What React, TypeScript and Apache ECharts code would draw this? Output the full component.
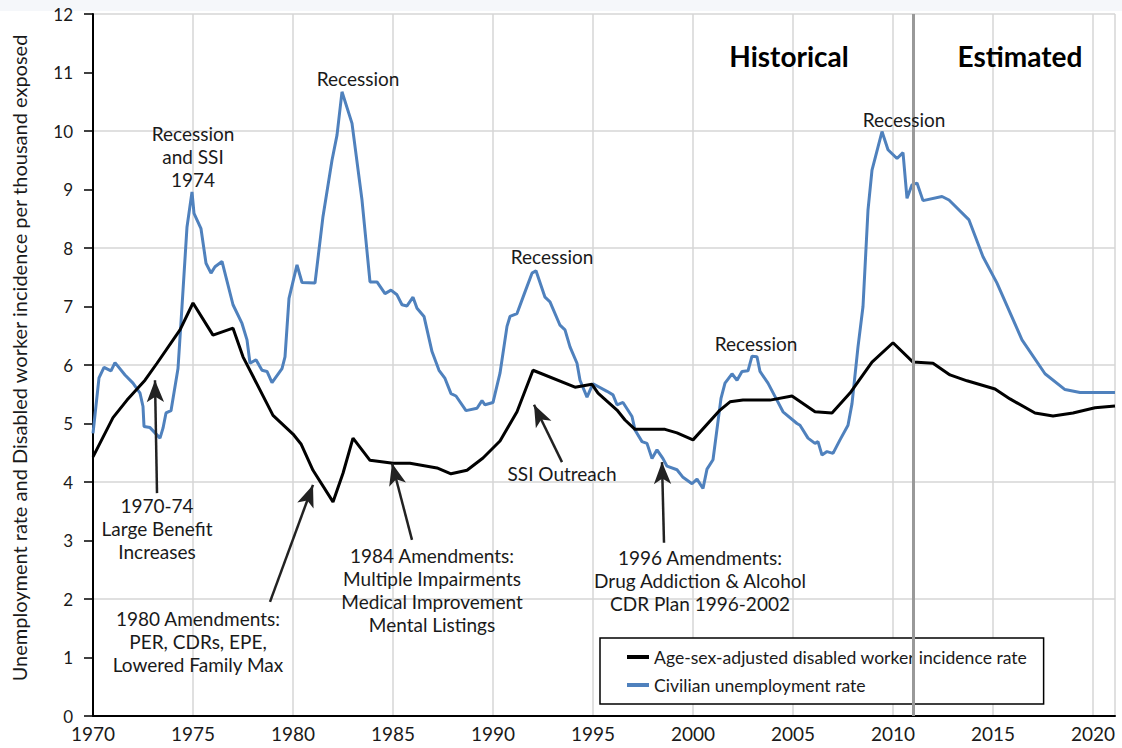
import React, { useEffect, useRef } from "react";
import * as echarts from "echarts";

// Civilian unemployment rate (blue)
const blueYears = [
  1970.0, 1970.3, 1970.55, 1970.9, 1971.1, 1971.6, 1972.0, 1972.35, 1972.5, 1972.55,
  1972.85, 1973.35, 1973.5, 1973.65, 1973.9, 1974.25, 1974.45, 1974.7, 1974.95, 1975.05,
  1975.4, 1975.65, 1975.9, 1976.1, 1976.45, 1977.0, 1977.45, 1977.7, 1977.85, 1978.15,
  1978.45, 1978.7, 1978.95, 1979.45, 1979.6, 1979.8, 1980.2, 1980.45, 1981.1, 1981.5,
  1981.95, 1982.2, 1982.45, 1982.95, 1983.45, 1983.85, 1984.2, 1984.6, 1984.9, 1985.2,
  1985.45, 1985.7, 1986.0, 1986.2, 1986.55, 1986.95, 1987.3, 1987.6, 1987.9, 1988.15,
  1988.65, 1989.2, 1989.45, 1989.6, 1990.0, 1990.35, 1990.7, 1990.85, 1991.2, 1991.6,
  1991.95, 1992.15, 1992.6, 1992.85, 1993.35, 1993.6, 1993.85, 1994.2, 1994.35, 1994.7,
  1995.0, 1995.7, 1996.0, 1996.2, 1996.5, 1996.95, 1997.1, 1997.45, 1997.7, 1997.95,
  1998.2, 1998.5, 1998.7, 1999.2, 1999.5, 1999.95, 2000.2, 2000.5, 2000.7, 2001.0,
  2001.4, 2001.6, 2001.95, 2002.2, 2002.45, 2002.75, 2002.95, 2003.2, 2003.35, 2003.75,
  2004.15, 2004.5, 2005.2, 2005.35, 2005.75, 2006.1, 2006.25, 2006.45, 2006.7, 2007.0,
  2007.35, 2007.75, 2007.95, 2008.25, 2008.5, 2008.75, 2008.95, 2009.45, 2009.75, 2010.2,
  2010.5, 2010.7, 2010.95, 2011.2, 2011.5, 2012.45, 2012.8, 2013.8, 2014.5, 2015.2,
  2016.45, 2017.6, 2018.6, 2019.35, 2021.1,
];
const blueValues = [
  4.83, 5.78, 5.96, 5.9, 6.04, 5.83, 5.69, 5.52, 5.29, 4.95,
  4.93, 4.75, 4.92, 5.18, 5.22, 5.94, 7.0, 8.36, 8.96, 8.59,
  8.33, 7.74, 7.57, 7.68, 7.77, 7.03, 6.71, 6.43, 6.03, 6.09,
  5.91, 5.89, 5.7, 5.94, 6.14, 7.14, 7.71, 7.41, 7.4, 8.54,
  9.5, 9.93, 10.67, 10.13, 8.82, 7.42, 7.42, 7.22, 7.28, 7.2,
  7.03, 7.01, 7.16, 6.97, 6.83, 6.23, 5.91, 5.77, 5.51, 5.47,
  5.22, 5.26, 5.39, 5.32, 5.36, 5.86, 6.66, 6.83, 6.88, 7.25,
  7.57, 7.61, 7.16, 7.08, 6.68, 6.6, 6.31, 6.03, 5.74, 5.45,
  5.68, 5.55, 5.49, 5.32, 5.36, 5.12, 4.89, 4.69, 4.66, 4.4,
  4.55, 4.4, 4.27, 4.21, 4.08, 3.97, 4.05, 3.89, 4.22, 4.38,
  5.43, 5.69, 5.85, 5.74, 5.89, 5.9, 6.15, 6.14, 5.89, 5.69,
  5.43, 5.2, 5.0, 4.97, 4.75, 4.66, 4.69, 4.46, 4.52, 4.49,
  4.72, 4.97, 5.34, 6.31, 7.0, 8.65, 9.33, 9.99, 9.68, 9.53,
  9.63, 8.85, 9.08, 9.11, 8.81, 8.88, 8.82, 8.48, 7.85, 7.4,
  6.43, 5.85, 5.58, 5.53, 5.53,
];

// Age-sex-adjusted disabled worker incidence rate (black)
const blackYears = [
  1970, 1971, 1971.7, 1972.6, 1973.2, 1974.35, 1975, 1976, 1977, 1977.5,
  1979, 1980, 1980.4, 1981, 1982, 1982.5, 1983, 1983.85, 1985, 1985.85,
  1987.2, 1987.9, 1988.7, 1989.5, 1990.35, 1991.2, 1992, 1994.1, 1994.95, 1995.25,
  1996.2, 1996.6, 1997.1, 1998.6, 1999.2, 2000, 2001.35, 2001.85, 2002.5, 2003.85,
  2004.95, 2006.1, 2006.95, 2007.85, 2008.95, 2010, 2011, 2012, 2012.85, 2013.7,
  2015.1, 2015.85, 2017.1, 2018, 2019, 2020.1, 2021.1,
];
const blackValues = [
  4.43, 5.1, 5.4, 5.74, 6.03, 6.6, 7.06, 6.51, 6.63, 6.14,
  5.14, 4.82, 4.65, 4.2, 3.66, 4.15, 4.75, 4.37, 4.32, 4.32,
  4.24, 4.14, 4.2, 4.41, 4.7, 5.2, 5.91, 5.62, 5.67, 5.52,
  5.23, 5.06, 4.9, 4.9, 4.84, 4.72, 5.23, 5.37, 5.4, 5.4,
  5.47, 5.2, 5.18, 5.52, 6.05, 6.38, 6.05, 6.03, 5.83, 5.73,
  5.59, 5.42, 5.18, 5.13, 5.18, 5.27, 5.3,
];

const seriesNames = [
  "Age-sex-adjusted disabled worker incidence rate",
  "Civilian unemployment rate",
];
const yAxisTitle =
  "Unemployment rate and Disabled worker incidence per thousand exposed";
const splitYear = 2011;

const notes = [
  { text: "Recession\nand SSI\n1974", at: [1975.0, 9.57] },
  { text: "Recession", at: [1983.25, 10.9] },
  { text: "Recession", at: [1992.95, 7.86] },
  { text: "Recession", at: [2003.15, 6.36] },
  { text: "Recession", at: [2010.55, 10.2] },
  { text: "1970-74\nLarge Benefit\nIncreases", at: [1973.2, 3.21] },
  { text: "1980 Amendments:\nPER, CDRs, EPE,\nLowered Family Max", at: [1975.25, 1.28] },
  { text: "1984 Amendments:\nMultiple Impairments\nMedical Improvement\nMental Listings", at: [1986.95, 2.15] },
  { text: "SSI Outreach", at: [1993.45, 4.15] },
  { text: "1996 Amendments:\nDrug Addiction & Alcohol\nCDR Plan 1996-2002", at: [2000.35, 2.32] },
];
const headings = [
  { text: "Historical", at: [2004.8, 11.28] },
  { text: "Estimated", at: [2016.35, 11.28] },
];
const arrows = [
  [[1973.2, 3.81], [1973.1, 5.74]],
  [[1978.85, 1.95], [1981.0, 3.95]],
  [[1985.95, 3.01], [1984.95, 4.32]],
  [[1993.45, 4.34], [1992.05, 5.32]],
  [[1998.55, 2.96], [1998.45, 4.34]],
];

export default function App() {
  const ref = useRef<HTMLDivElement>(null);
  useEffect(() => {
    if (!ref.current) return;
    const chart = echarts.init(ref.current, null, { renderer: "svg" });
    const font = "Lato, 'Noto Sans', sans-serif";
    const ink = "#1a1a1a";
    const blueData = blueYears.map((x, i) => [x, blueValues[i]]);
    const blackData = blackYears.map((x, i) => [x, blackValues[i]]);

    chart.setOption({
      animation: false,
      backgroundColor: "#ffffff",
      textStyle: { fontFamily: font },
      grid: { left: 93, right: 7, top: 14, bottom: 32 },
      legend: {
        data: seriesNames,
        orient: "vertical",
        left: 600,
        top: 638,
        backgroundColor: "#ffffff",
        borderColor: "#000000",
        borderWidth: 1.5,
        borderRadius: 0,
        padding: [10, 16, 10, 27],
        itemGap: 10,
        itemWidth: 22,
        itemHeight: 4,
        icon: "rect",
        textStyle: { fontFamily: font, fontSize: 17.6, color: ink },
      },
      xAxis: {
        type: "value",
        min: 1970,
        max: 2021.1,
        interval: 5,
        axisLine: { show: true, lineStyle: { color: "#000", width: 2 } },
        axisTick: { show: false },
        axisLabel: {
          fontSize: 19,
          color: ink,
          margin: 8,
          showMaxLabel: false,
          formatter: (v: number) => (Math.abs(v % 5) < 1e-6 ? String(v) : ""),
        },
        splitLine: { show: true, lineStyle: { color: "#d6d6d6", width: 1.5 } },
      },
      yAxis: [
        {
          type: "value",
          min: 0,
          max: 12,
          interval: 1,
          axisLine: { show: true, lineStyle: { color: "#000", width: 2 } },
          axisTick: { show: true, length: 9, lineStyle: { color: "#000", width: 1.5 } },
          axisLabel: { fontSize: 17, color: ink, margin: 20 },
          splitLine: { show: false },
        },
        {
          type: "value",
          min: 0,
          max: 12,
          interval: 2,
          position: "left",
          axisLine: { show: false },
          axisTick: { show: false },
          axisLabel: { show: false },
          splitLine: { show: true, lineStyle: { color: "#d6d6d6", width: 1.5 } },
        },
      ],
      series: [
        {
          name: seriesNames[1],
          type: "line",
          data: blueData,
          showSymbol: false,
          symbol: "none",
          lineStyle: { color: "#4f81bd", width: 3 },
          itemStyle: { color: "#4f81bd" },
          z: 3,
          markLine: {
            silent: true,
            symbol: ["none", "arrow"],
            symbolSize: [13, 22],
            label: { show: false },
            lineStyle: { color: "#222", width: 2.5, type: "solid" },
            itemStyle: { color: "#222" },
            data: arrows.map(([a, b]) => [{ coord: a }, { coord: b }]),
          },
        },
        {
          name: seriesNames[0],
          type: "line",
          data: blackData,
          showSymbol: false,
          symbol: "none",
          lineStyle: { color: "#000000", width: 3 },
          itemStyle: { color: "#000000" },
          z: 4,
          markLine: {
            silent: true,
            symbol: ["none", "none"],
            label: { show: false },
            lineStyle: { color: "#999999", width: 3, type: "solid" },
            data: [{ xAxis: splitYear }],
          },
        },
      ],
    });

    const toPx = (p: number[]) =>
      chart.convertToPixel({ xAxisIndex: 0, yAxisIndex: 0 }, p) as number[];

    const graphics: any[] = [
      {
        type: "rect",
        shape: { x: 0, y: 0, width: 1122, height: 11 },
        style: { fill: "#f5f7fa" },
        z: -1,
        silent: true,
      },
      {
        type: "text",
        x: 19,
        y: 358,
        rotation: Math.PI / 2,
        z: 10,
        style: {
          text: yAxisTitle,
          fontFamily: font,
          fontSize: 20,
          fill: ink,
          align: "center",
          verticalAlign: "middle",
        },
      },
    ];
    notes.forEach((n) => {
      const [x, y] = toPx(n.at);
      graphics.push({
        type: "text",
        x,
        y,
        z: 10,
        style: {
          text: n.text,
          fontFamily: font,
          fontSize: 19,
          lineHeight: 23,
          fill: ink,
          align: "center",
          verticalAlign: "middle",
        },
      });
    });
    headings.forEach((n) => {
      const [x, y] = toPx(n.at);
      graphics.push({
        type: "text",
        x,
        y,
        z: 10,
        style: {
          text: n.text,
          fontFamily: font,
          fontSize: 28,
          fontWeight: "bold",
          fill: "#000",
          align: "center",
          verticalAlign: "middle",
        },
      });
    });
    chart.setOption({ graphic: graphics });

    return () => chart.dispose();
  }, []);

  return (
    <div
      ref={ref}
      style={{ position: "fixed", left: 0, top: 0, width: 1122, height: 748, background: "#fff" }}
    />
  );
}
